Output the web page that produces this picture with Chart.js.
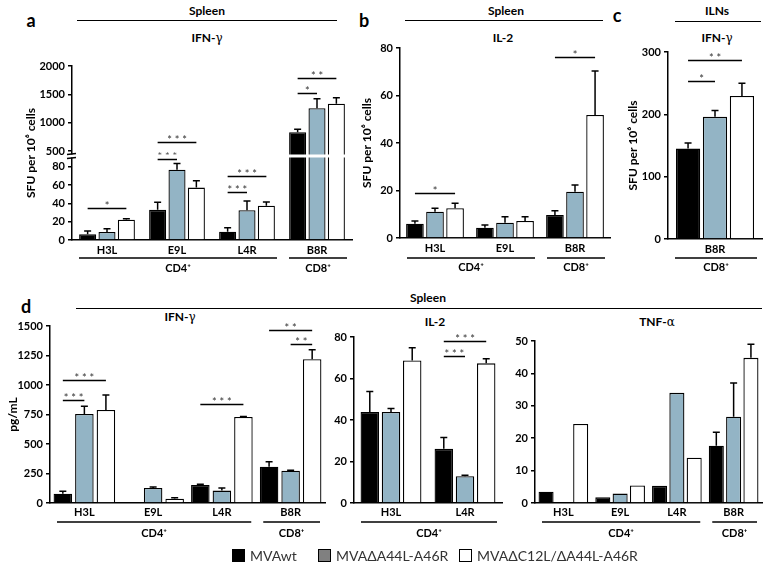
<!DOCTYPE html>
<html>
<head>
<meta charset="utf-8">
<script src="https://cdn.jsdelivr.net/npm/chart.js@4.4.1/dist/chart.umd.min.js"></script>
<style>
  body { margin: 0; background: #fff; }
  #wrap { position: relative; width: 768px; height: 572px; overflow: hidden; font-family: Lato, "Open Sans", sans-serif; color: #000; }
  canvas { position: absolute; }
  .t { position: absolute; transform: translate(-50%, -50%); font-weight: bold; font-size: 12px; white-space: nowrap; }
  .p { position: absolute; transform: translate(-50%, -50%); font-weight: bold; font-size: 18px; }
  .g { font-family: "DejaVu Serif", serif; font-weight: normal; }
  .ln { position: absolute; height: 0; border-top: 1.5px solid #000; }
  .lg { position: absolute; font-size: 14px; color: #333; white-space: nowrap; display: flex; align-items: center; }
  .sw { display: inline-block; width: 13px; height: 13px; border: 1px solid #000; margin-right: 5px; box-sizing: border-box; }
</style>
</head>
<body>
<div id="wrap">
  <div class="p" style="left:31px;top:20px">a</div>
  <div class="t" style="left:207px;top:10px">Spleen</div>
  <div class="ln" style="left:77px;top:20px;width:260px"></div>
  <div class="t" style="left:207px;top:37px">IFN-<span class="g">γ</span></div>

  <div class="p" style="left:364px;top:20px">b</div>
  <div class="t" style="left:506px;top:10px">Spleen</div>
  <div class="ln" style="left:405px;top:20px;width:198px"></div>
  <div class="t" style="left:503px;top:37px">IL-2</div>

  <div class="p" style="left:617px;top:15px">c</div>
  <div class="t" style="left:717px;top:10px">ILNs</div>
  <div class="ln" style="left:675px;top:21px;width:86px"></div>
  <div class="t" style="left:717px;top:37px">IFN-<span class="g">γ</span></div>

  <div class="p" style="left:26px;top:306px">d</div>
  <div class="t" style="left:428px;top:297px">Spleen</div>
  <div class="ln" style="left:76px;top:308px;width:686px"></div>
  <div class="t" style="left:180px;top:316px">IFN-<span class="g">γ</span></div>
  <div class="t" style="left:435px;top:321px">IL-2</div>
  <div class="t" style="left:657px;top:321px">TNF-<span class="g">α</span></div>

  <canvas id="cA" width="356" height="240" style="left:0;top:56px"></canvas>
  <canvas id="cB" width="264" height="256" style="left:350px;top:38px"></canvas>
  <canvas id="cC" width="150" height="253" style="left:616px;top:42px"></canvas>
  <canvas id="cD1" width="329" height="241" style="left:0;top:316px"></canvas>
  <canvas id="cD2" width="176" height="230" style="left:330px;top:327px"></canvas>
  <canvas id="cD3" width="258" height="226" style="left:510px;top:331px"></canvas>

  <div class="lg" style="left:232px;top:547px"><span class="sw" style="background:#000"></span>MVAwt</div>
  <div class="lg" style="left:318px;top:547px"><span class="sw" style="background:#808080"></span>MVAΔA44L-A46R</div>
  <div class="lg" style="left:459px;top:547px"><span class="sw" style="background:#fff"></span>MVAΔC12L/ΔA44L-A46R</div>
</div>
<script>
const seriesNames = ['MVAwt', 'MVAΔA44L-A46R', 'MVAΔC12L/ΔA44L-A46R'];
const colors = ['#000000', '#93b4c5', '#ffffff'];

// a: spleen IFN-g ELISpot (broken axis)
const aCats = ['H3L', 'E9L', 'L4R', 'B8R'];
const aWt = [6.2, 33, 9.1, 830];
const aWtErr = [9.9, 41.3, 13.5, 883];
const aDel = [8.8, 77, 32.5, 1254];
const aDelErr = [12.4, 83.7, 42.7, 1423];
const aDbl = [22.3, 57.4, 37.6, 1335];
const aDblErr = [23.4, 65, 41.6, 1441];
const aTicks = [0, 20, 40, 60, 80, 500, 1000, 1500, 2000];
const aSig = [[0, 0, 2, 35, '*'], [1, 0, 1, 89, '* * *'], [1, 0, 2, 664, '* * *'],
  [2, 0, 1, 52.6, '* * *'], [2, 0, 2, 70, '* * *'], [3, 0, 1, 1524, '*'], [3, 0, 2, 1788, '* *']];

// b: spleen IL-2 ELISpot
const bCats = ['H3L', 'E9L', 'B8R'];
const bWt = [6.0, 4.3, 9.7];
const bWtErr = [7.2, 5.5, 11.5];
const bDel = [11.1, 6.4, 19.5];
const bDelErr = [12.5, 9.0, 22.3];
const bDbl = [12.5, 7.2, 51.8];
const bDblErr = [14.6, 9.0, 70.3];
const bSig = [[0, 0, 2, 19, '*'], [2, 0, 2, 76.2, '*']];

// c: ILNs IFN-g
const cCats = ['B8R'];
const cWt = [145], cWtErr = [154];
const cDel = [196], cDelErr = [206];
const cDbl = [229.5], cDblErr = [250];
const cSig = [[0, 0, 1, 253.6, '*'], [0, 0, 2, 287, '* *']];

// d: cytokines pg/mL
const dCats = ['H3L', 'E9L', 'L4R', 'B8R'];
const dIfnWt = [79, null, 153, 308];
const dIfnWtErr = [99, null, 158, 350];
const dIfnDel = [754, 127, 105, 274];
const dIfnDelErr = [819, 136, 127, 277];
const dIfnDbl = [788, 37, 729, 1218];
const dIfnDblErr = [915, 45, 732, 1299];
const dIfnSig = [[0, 0, 1, 875, '* * *'], [0, 0, 2, 1042, '* * *'], [2, 0, 2, 836, '* * *'],
  [3, 0, 2, 1466, '* *'], [3, 1, 2, 1347, '* *']];

const dIl2Cats = ['H3L', 'L4R'];
const dIl2Wt = [43.9, 26.1];
const dIl2WtErr = [53.7, 31.6];
const dIl2Del = [43.9, 12.9];
const dIl2DelErr = [45.5, 13.4];
const dIl2Dbl = [68.7, 67.3];
const dIl2DblErr = [74.8, 69.5];
const dIl2Sig = [[1, 0, 1, 71, '* * *'], [1, 0, 2, 78.2, '* * *']];

const dTnfWt = [3.5, 1.75, 5.3, 17.7];
const dTnfWtErr = [null, null, null, 21.8];
const dTnfDel = [null, 2.9, 34.0, 26.6];
const dTnfDelErr = [null, null, null, 37];
const dTnfDbl = [24.4, 5.4, 14.0, 44.8];
const dTnfDblErr = [null, null, null, 49];

const CD4 = 'CD4\u207A', CD8 = 'CD8\u207A';

Chart.defaults.font.family = 'Lato, "Open Sans", sans-serif';
Chart.defaults.font.weight = 'bold';
Chart.defaults.font.size = 11;
Chart.defaults.color = '#000';

// broken linear axis for panel a
const brk = { low: 92, high: 412, frac: 0.4828 };
class BrokenLinear extends Chart.LinearScale {
  getPixelForValue(v) {
    if (v === null || v === undefined) return NaN;
    let d;
    if (v <= brk.low) d = (v - this.min) / (brk.low - this.min) * brk.frac;
    else if (v >= brk.high) d = brk.frac + (v - brk.high) / (this.max - brk.high) * (1 - brk.frac);
    else d = brk.frac;
    return this.getPixelForDecimal(d);
  }
  getValueForPixel(p) {
    const d = this.getDecimalForPixel(p);
    if (d <= brk.frac) return this.min + d / brk.frac * (brk.low - this.min);
    return brk.high + (d - brk.frac) / (1 - brk.frac) * (this.max - brk.high);
  }
}
BrokenLinear.id = 'brokenLinear';
Chart.register(BrokenLinear);

function extras(cfg) {
  return {
    id: 'extras',
    afterDatasetsDraw(chart) {
      const ctx = chart.ctx, x = chart.scales.x, y = chart.scales.y, area = chart.chartArea;
      ctx.save();
      ctx.strokeStyle = '#000';
      ctx.lineWidth = 1.5;
      // error bars (upper only)
      cfg.err.forEach((errs, di) => {
        const meta = chart.getDatasetMeta(di);
        errs.forEach((e, j) => {
          if (e == null) return;
          const bar = meta.data[j];
          const top = y.getPixelForValue(e);
          ctx.beginPath();
          ctx.moveTo(bar.x, bar.y);
          ctx.lineTo(bar.x, top);
          ctx.moveTo(bar.x - 3.5, top);
          ctx.lineTo(bar.x + 3.5, top);
          ctx.stroke();
        });
      });
      // significance lines
      ctx.font = '11px Lato, sans-serif';
      ctx.fillStyle = '#333';
      ctx.textAlign = 'center';
      ctx.textBaseline = 'alphabetic';
      (cfg.sig || []).forEach(([c, a, b, v, txt]) => {
        const x1 = chart.getDatasetMeta(a).data[c].x;
        const x2 = chart.getDatasetMeta(b).data[c].x;
        const py = Math.round(y.getPixelForValue(v)) + 0.5;
        ctx.beginPath();
        ctx.moveTo(x1, py);
        ctx.lineTo(x2, py);
        ctx.stroke();
        ctx.fillText(txt, (x1 + x2) / 2, py + 1);
      });
      // axis break
      if (cfg.brk) {
        const py = y.getPixelForValue(brk.low);
        ctx.fillStyle = '#fff';
        ctx.fillRect(area.left - 6, py - 1.5, area.right - area.left + 10, 3);
        ctx.beginPath();
        ctx.moveTo(area.left - 5, py - 1.5);
        ctx.lineTo(area.left + 4, py - 2.5);
        ctx.moveTo(area.left - 5, py + 2.5);
        ctx.lineTo(area.left + 4, py + 1.5);
        ctx.stroke();
      }
      // category groups under the axis
      const w = x.width / x.ticks.length;
      ctx.font = 'bold 11px Lato, sans-serif';
      ctx.fillStyle = '#000';
      ctx.textBaseline = 'middle';
      (cfg.groups || []).forEach(([from, to, txt]) => {
        const l = x.getPixelForValue(from) - w / 2 + 7;
        const r = x.getPixelForValue(to) + w / 2 - 5;
        const py = area.bottom + cfg.gLine;
        ctx.beginPath();
        ctx.moveTo(l, py);
        ctx.lineTo(r, py);
        ctx.stroke();
        ctx.fillText(txt, (l + r) / 2, area.bottom + cfg.gText);
      });
      ctx.restore();
    }
  };
}

function makeChart(id, cats, values, errs, o) {
  const y = {
    type: o.yType || 'linear',
    min: o.min, max: o.max,
    ticks: { stepSize: o.step, callback: v => v, padding: 3, color: '#000', font: { size: 11, weight: 'bold' } },
    grid: { drawOnChartArea: false, tickLength: 4, color: '#000', lineWidth: 1.5 },
    border: { color: '#000', width: 1.5 },
    title: { display: !!o.title, text: o.title, color: '#000', font: { size: o.titleSize || 12, weight: 'bold' }, padding: { top: 4, bottom: 4 } },
    afterFit: s => { s.width = o.yw; }
  };
  if (o.ticks) y.afterBuildTicks = s => { s.ticks = o.ticks.map(v => ({ value: v })); };
  return new Chart(document.getElementById(id), {
    type: 'bar',
    data: {
      labels: cats,
      datasets: values.map((v, i) => ({
        label: seriesNames[i], data: v,
        backgroundColor: colors[i], borderColor: '#000', borderWidth: 1.3,
        categoryPercentage: o.cp, barPercentage: o.bp
      }))
    },
    options: {
      responsive: false,
      animation: false,
      layout: { padding: { left: o.pl, top: 10, right: o.pr, bottom: o.pb } },
      plugins: { legend: { display: false }, tooltip: { enabled: false } },
      scales: {
        x: {
          grid: { display: false, drawTicks: false, tickLength: 0 },
          border: { color: '#000', width: 1.5 },
          ticks: { padding: o.xpad, color: '#000', font: { size: 11, weight: 'bold' } },
          afterFit: s => { s.height = 20; }
        },
        y: y
      }
    },
    plugins: [extras({ err: errs, sig: o.sig, groups: o.groups, brk: o.brk, gLine: o.gLine, gText: o.gText })]
  });
}

const SFU = 'SFU per 10\u2076 cells';

makeChart('cA', aCats, [aWt, aDel, aDbl], [aWtErr, aDelErr, aDblErr], {
  yType: 'brokenLinear', min: 0, max: 2000, ticks: aTicks, title: SFU,
  yw: 52, pl: 20, pr: 4, pb: 36, xpad: 4, cp: 0.83, bp: 0.88,
  sig: aSig, brk: true, groups: [[0, 2, CD4], [3, 3, CD8]], gLine: 18, gText: 28
});
makeChart('cB', bCats, [bWt, bDel, bDbl], [bWtErr, bDelErr, bDblErr], {
  min: 0, max: 80, step: 20, title: SFU,
  yw: 44, pl: 6, pr: 4, pb: 36, xpad: 4, cp: 0.86, bp: 0.88,
  sig: bSig, groups: [[0, 1, CD4], [2, 2, CD8]], gLine: 20, gText: 29
});
makeChart('cC', cCats, [cWt, cDel, cDbl], [cWtErr, cDelErr, cDblErr], {
  min: 0, max: 300, step: 100, title: SFU,
  yw: 46, pl: 6, pr: 4, pb: 36, xpad: 4, cp: 0.86, bp: 0.9,
  sig: cSig, groups: [[0, 0, CD8]], gLine: 19, gText: 28
});
makeChart('cD1', dCats, [dIfnWt, dIfnDel, dIfnDbl], [dIfnWtErr, dIfnDelErr, dIfnDblErr], {
  min: 0, max: 1500, step: 250, title: 'pg/mL', titleSize: 12,
  yw: 48, pl: 2, pr: 4, pb: 34, xpad: 3, cp: 0.94, bp: 0.86,
  sig: dIfnSig, groups: [[0, 2, CD4], [3, 3, CD8]], gLine: 19, gText: 30
});
makeChart('cD2', dIl2Cats, [dIl2Wt, dIl2Del, dIl2Dbl], [dIl2WtErr, dIl2DelErr, dIl2DblErr], {
  min: 0, max: 80, step: 20,
  yw: 24, pl: 0, pr: 4, pb: 34, xpad: 3, cp: 0.86, bp: 0.87,
  sig: dIl2Sig, groups: [[0, 1, CD4]], gLine: 19, gText: 30
});
makeChart('cD3', dCats, [dTnfWt, dTnfDel, dTnfDbl], [dTnfWtErr, dTnfDelErr, dTnfDblErr], {
  min: 0, max: 50, step: 10,
  yw: 25, pl: 0, pr: 6, pb: 34, xpad: 3, cp: 0.915, bp: 0.87,
  sig: [], groups: [[0, 2, CD4], [3, 3, CD8]], gLine: 19, gText: 30
});
</script>
</body>
</html>
